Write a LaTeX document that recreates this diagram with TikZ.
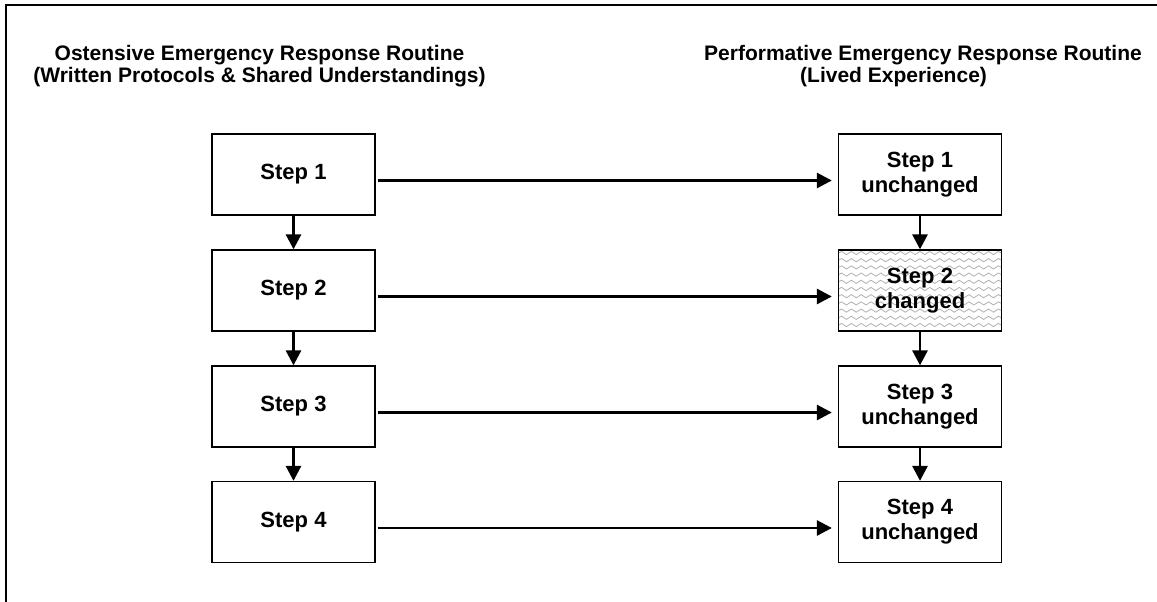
\documentclass[tikz,border=0pt]{standalone}
\usepackage{fontspec}
\setmainfont{Liberation Sans}
\usetikzlibrary{arrows.meta,decorations.pathmorphing}

\tikzset{
  stepbox/.style={draw=black, line width=1.3pt, fill=white,
    minimum width=163pt, minimum height=81pt, inner sep=0pt,
    align=center, font=\fontsize{22}{25}\selectfont\bfseries},
  title/.style={inner sep=0pt, font=\fontsize{21}{22}\selectfont\bfseries},
  flow/.style={line width=2.8pt, -{Triangle[length=15pt,width=15pt]}},
  wavy/.style={draw=gray!60, line width=0.8pt, decorate,
    decoration={snake, segment length=9.8pt, amplitude=1.6pt}},
  changed/.style={stepbox, path picture={
    \foreach \k in {0,...,11}{
      \draw[wavy] ([yshift={-\k*7.2pt-3pt}]path picture bounding box.north west)
        -- ([yshift={-\k*7.2pt-3pt}]path picture bounding box.north east);
    }}}
}

\begin{document}
\begin{tikzpicture}[x=1pt,y=-1pt]
  \useasboundingbox (0,0) rectangle (1157,602);

  % partial frame
  \draw[line width=2pt] (6,602) -- (6,5) -- (1157,5);

  % column headings
  \node[title, anchor=base] (tl1) at (259.5,60) {Ostensive Emergency Response Routine};
  \node[title, anchor=base] (tl2) at (259.5,82) {(Written Protocols \& Shared Understandings)};
  \node[title, anchor=base east] (tr1) at (1142,60) {Performative Emergency Response Routine};
  \node[title, anchor=base west] (tr2) at (800,82) {(Lived Experience)};

  % ostensive steps
  \node[stepbox] (l1) at (293.5,174.5) {Step 1};
  \node[stepbox] (l2) at (293.5,290.5) {Step 2};
  \node[stepbox] (l3) at (293.5,406.5) {Step 3};
  \node[stepbox] (l4) at (293.5,522) {Step 4};

  % performative steps
  \node[stepbox] (r1) at (920,174.5) {Step 1\\unchanged};
  \node[changed] (r2) at (920,290.5) {Step 2\\changed};
  \node[stepbox] (r3) at (920,406.5) {Step 3\\unchanged};
  \node[stepbox] (r4) at (920,522) {Step 4\\unchanged};

  % sequence within each routine
  \foreach \a/\b in {l1/l2,l2/l3,l3/l4,r1/r2,r2/r3,r3/r4}
    \draw[flow] (\a.south) -- (\b.north);

  % ostensive step to its performance
  \foreach \i in {1,2,3,4}
    \draw[flow] ([xshift=2pt,yshift=-6pt]l\i.east) -- ([xshift=-6pt,yshift=-6pt]r\i.west);
\end{tikzpicture}
\end{document}
